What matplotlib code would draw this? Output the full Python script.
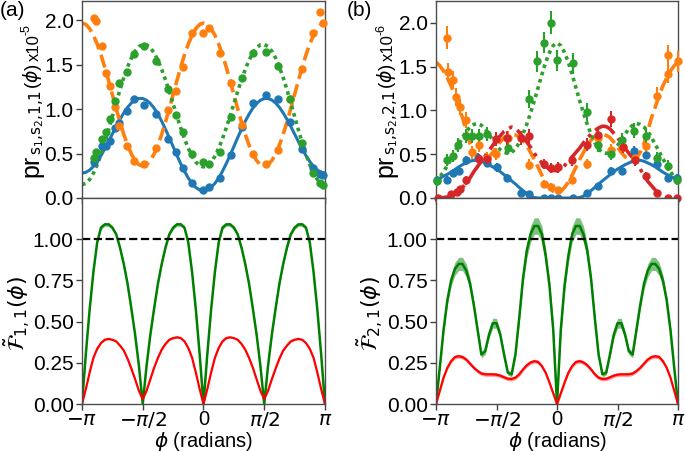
import numpy as np
import matplotlib
matplotlib.use('Agg')
import matplotlib.pyplot as plt

plt.rcParams['font.family'] = ['Liberation Sans', 'DejaVu Sans']
plt.rcParams['mathtext.fontset'] = 'dejavusans'

PI = np.pi
# fitted-curve sample positions (phi from -pi to pi, 65 samples)
GRID = np.linspace(-PI, PI, 65)

# ---------------- panel (a) top: probabilities x1e-5 ----------------
BLUE_A_FIT = [0.280, 0.289, 0.314, 0.355, 0.410, 0.477, 0.553, 0.636, 0.721, 0.805, 0.886, 0.958, 1.021,
              1.070, 1.104, 1.121, 1.120, 1.101, 1.065, 1.012, 0.944, 0.864, 0.774, 0.678, 0.579, 0.481,
              0.387, 0.301, 0.225, 0.164, 0.118, 0.090,
              0.080,
              0.090, 0.118, 0.164, 0.225, 0.301, 0.387, 0.481, 0.579, 0.678, 0.774, 0.864, 0.944, 1.012,
              1.065, 1.101, 1.120, 1.121, 1.104, 1.070, 1.021, 0.958, 0.886, 0.805, 0.721, 0.636, 0.553,
              0.477, 0.410, 0.355, 0.314, 0.289, 0.280]
ORANGE_A_FIT = [1.970, 1.955, 1.909, 1.834, 1.734, 1.612, 1.473, 1.322, 1.165, 1.008, 0.857, 0.718, 0.596,
                0.496, 0.421, 0.375, 0.360, 0.375, 0.421, 0.496, 0.596, 0.718, 0.857, 1.008, 1.165, 1.322,
                1.473, 1.612, 1.734, 1.834, 1.909, 1.955,
                1.970,
                1.955, 1.909, 1.834, 1.734, 1.612, 1.473, 1.322, 1.165, 1.008, 0.857, 0.718, 0.596, 0.496,
                0.421, 0.375, 0.360, 0.375, 0.421, 0.496, 0.596, 0.718, 0.857, 1.008, 1.165, 1.322, 1.473,
                1.612, 1.734, 1.834, 1.909, 1.955, 1.970]
GREEN_A_FIT = [0.150, 0.165, 0.208, 0.279, 0.374, 0.491, 0.624, 0.768, 0.919, 1.071, 1.218, 1.354, 1.475,
               1.576, 1.654, 1.706, 1.730, 1.726, 1.693, 1.634, 1.552, 1.448, 1.329, 1.198, 1.061, 0.923,
               0.790, 0.667, 0.559, 0.470, 0.404, 0.364,
               0.350,
               0.364, 0.404, 0.470, 0.559, 0.667, 0.790, 0.923, 1.061, 1.198, 1.329, 1.448, 1.552, 1.634,
               1.693, 1.726, 1.730, 1.706, 1.654, 1.576, 1.475, 1.354, 1.218, 1.071, 0.919, 0.768, 0.624,
               0.491, 0.374, 0.279, 0.208, 0.165, 0.150]

PHI_A = [-2.83, -2.78, -2.62, -2.52, -2.43, -2.30, -2.18, -1.98, -1.79, -1.55, -1.23, -0.93, -0.70, -0.52,
         -0.30, -0.01, 0.15, 0.42, 0.71, 1.00, 1.29, 1.61, 1.93, 2.24, 2.54, 2.83, 3.02, 3.09]
BLUE_A = [0.41, 0.45, 0.58, 0.59, 0.64, 0.79, 0.84, 0.98, 1.11, 1.05, 0.95, 0.67, 0.52, 0.34, 0.17, 0.09,
          0.12, 0.23, 0.48, 0.80, 1.07, 1.16, 1.12, 0.86, 0.55, 0.34, 0.27, 0.26]
ORANGE_A = [2.03, 1.99, 1.71, 1.41, 1.26, 1.03, 0.81, 0.58, 0.42, 0.38, 0.56, 0.99, 1.20, 1.47, 1.86, 1.86,
            1.91, 1.63, 1.30, 0.82, 0.49, 0.38, 0.54, 1.12, 1.45, 1.86, 2.09, 1.97]
GREEN_A = [0.45, 0.52, 0.67, 0.74, 0.89, 1.09, 1.30, 1.42, 1.62, 1.71, 1.54, 1.23, 0.94, 0.74, 0.50, 0.41,
           0.38, 0.52, 0.91, 1.35, 1.63, 1.65, 1.49, 1.12, 0.62, 0.28, 0.17, 0.15]

# ---------------- panel (a) bottom: Fisher information ----------------
FISHER_A_GREEN = [0, 0.30, 0.57, 0.80, 0.98, 1.07, 1.09, 1.09, 1.07, 1.03, 0.95, 0.85, 0.73, 0.58, 0.42, 0.23, 0,
                  0.23, 0.42, 0.58, 0.73, 0.85, 0.95, 1.03, 1.07, 1.09, 1.09, 1.07, 0.98, 0.80, 0.57, 0.30, 0,
                  0.30, 0.57, 0.80, 0.98, 1.07, 1.09, 1.09, 1.07, 1.03, 0.95, 0.85, 0.73, 0.58, 0.42, 0.23, 0,
                  0.23, 0.42, 0.58, 0.73, 0.85, 0.95, 1.03, 1.07, 1.09, 1.09, 1.07, 0.98, 0.80, 0.57, 0.30, 0]
FISHER_A_RED = [0, 0.09, 0.19, 0.28, 0.335, 0.37, 0.39, 0.395, 0.39, 0.38, 0.355, 0.325, 0.275, 0.215, 0.15, 0.08, 0.03,
                0.08, 0.15, 0.22, 0.28, 0.33, 0.365, 0.39, 0.40, 0.405, 0.40, 0.38, 0.34, 0.28, 0.19, 0.09, 0,
                0.09, 0.19, 0.28, 0.34, 0.38, 0.40, 0.405, 0.40, 0.39, 0.365, 0.33, 0.28, 0.22, 0.15, 0.08, 0.03,
                0.08, 0.15, 0.215, 0.275, 0.325, 0.355, 0.38, 0.39, 0.395, 0.39, 0.37, 0.335, 0.28, 0.19, 0.09, 0]
FISHER_A_GREEN_ERR = 0.012
FISHER_A_RED_ERR = 0.005

# ---------------- panel (b) top: probabilities x1e-6 ----------------
BLUE_B_FIT = [0.20, 0.225, 0.25, 0.27, 0.295, 0.325, 0.355, 0.38, 0.40, 0.42, 0.43, 0.43, 0.42, 0.40, 0.38,
              0.355, 0.33, 0.30, 0.265, 0.23, 0.195, 0.16, 0.12, 0.085, 0.05, 0.022, 0.005, 0, 0, 0, 0, 0,
              0,
              0, 0, 0, 0, 0, 0.005, 0.022, 0.05, 0.085, 0.12, 0.16, 0.195, 0.23, 0.265, 0.30, 0.33, 0.355,
              0.38, 0.40, 0.42, 0.43, 0.43, 0.42, 0.40, 0.38, 0.355, 0.325, 0.295, 0.27, 0.25, 0.225, 0.20]
ORANGE_B_FIT = [1.55, 1.51, 1.45, 1.37, 1.28, 1.17, 1.04, 0.92, 0.76, 0.62, 0.52, 0.46, 0.44, 0.445, 0.47,
                0.52, 0.58, 0.64, 0.69, 0.715, 0.725, 0.72, 0.70, 0.66, 0.60, 0.52, 0.44, 0.35, 0.26, 0.18,
                0.12, 0.075,
                0.06,
                0.075, 0.12, 0.18, 0.26, 0.35, 0.44, 0.52, 0.60, 0.66, 0.70, 0.72, 0.725, 0.715, 0.69, 0.64,
                0.58, 0.52, 0.47, 0.445, 0.44, 0.46, 0.52, 0.62, 0.76, 0.92, 1.04, 1.17, 1.28, 1.37, 1.45,
                1.51, 1.55]
GREEN_B_FIT = [0.18, 0.24, 0.30, 0.37, 0.45, 0.53, 0.61, 0.69, 0.76, 0.81, 0.84, 0.85, 0.83, 0.79, 0.73,
               0.66, 0.60, 0.55, 0.52, 0.51, 0.52, 0.56, 0.63, 0.73, 0.84, 0.97, 1.11, 1.26, 1.41, 1.55,
               1.66, 1.74,
               1.77,
               1.74, 1.66, 1.55, 1.41, 1.26, 1.11, 0.97, 0.84, 0.73, 0.63, 0.56, 0.52, 0.51, 0.52, 0.55,
               0.60, 0.66, 0.73, 0.79, 0.83, 0.85, 0.84, 0.81, 0.76, 0.69, 0.61, 0.53, 0.45, 0.37, 0.30,
               0.24, 0.18]
RED_B_FIT = [0.0, 0.0, 0.005, 0.012, 0.025, 0.045, 0.08, 0.12, 0.17, 0.23, 0.30, 0.36, 0.42, 0.48, 0.54,
             0.60, 0.66, 0.71, 0.76, 0.79, 0.81, 0.80, 0.75, 0.70, 0.64, 0.58, 0.51, 0.45, 0.40, 0.36,
             0.33, 0.315, 0.31, 0.33, 0.37, 0.42, 0.47, 0.52, 0.57, 0.63, 0.68, 0.73, 0.77, 0.80, 0.82,
             0.815, 0.79, 0.74, 0.69, 0.63, 0.57, 0.51, 0.46, 0.40, 0.33, 0.26, 0.19, 0.14, 0.09, 0.05,
             0.02, 0.008, 0.003, 0.0, 0.0]

BLUE_B_PHI = [-3.12, -2.85, -2.69, -2.55, -2.37, -2.04, -1.83, -1.57, -1.29, -0.93, -0.73, -0.34, -0.15,
              0.02, 0.42, 0.77, 1.07, 1.40, 1.70, 2.01, 2.30, 2.59, 2.87, 3.11]
BLUE_B = [0.21, 0.21, 0.28, 0.31, 0.43, 0.46, 0.40, 0.35, 0.23, 0.06, 0.05, 0.0, 0.0, 0.0, 0.0, 0.06,
          0.14, 0.31, 0.31, 0.54, 0.49, 0.39, 0.23, 0.23]
BLUE_B_ERR = [0.04, 0.04, 0.04, 0.04, 0.05, 0.05, 0.05, 0.05, 0.04, 0.02, 0.02, 0.01, 0.01, 0.01, 0.01,
              0.02, 0.03, 0.04, 0.04, 0.05, 0.05, 0.05, 0.04, 0.04]
ORANGE_B_PHI = [-2.86, -2.83, -2.69, -2.61, -2.52, -2.37, -2.20, -2.03, -1.83, -1.59, -1.27, -0.73, -0.34,
                -0.15, 0.02, 0.38, 0.77, 1.07, 1.40, 1.72, 2.03, 2.30, 2.59, 2.87, 2.89, 3.13]
ORANGE_B = [1.83, 1.44, 1.35, 1.15, 1.04, 0.89, 0.52, 0.60, 0.46, 0.50, 0.69, 0.38, 0.16, 0.13, 0.09,
            0.21, 0.39, 0.69, 0.55, 0.58, 0.46, 0.59, 1.17, 1.42, 1.63, 1.56]
ORANGE_B_ERR = [0.13, 0.10, 0.10, 0.10, 0.09, 0.09, 0.07, 0.07, 0.06, 0.07, 0.08, 0.06, 0.04, 0.04, 0.03,
                0.05, 0.06, 0.08, 0.07, 0.07, 0.06, 0.07, 0.10, 0.11, 0.12, 0.12]
GREEN_B_PHI = [-3.12, -2.86, -2.69, -2.57, -2.35, -2.20, -2.03, -1.83, -1.28, -0.73, -0.53, -0.34, -0.16,
               0.01, 0.42, 0.77, 1.07, 1.40, 1.70, 2.01, 2.30, 2.59, 2.87, 3.11]
GREEN_B = [0.19, 0.43, 0.48, 0.60, 0.71, 0.71, 0.71, 0.73, 0.57, 1.13, 1.56, 1.77, 2.00, 1.57, 1.54, 0.98,
           0.61, 0.50, 0.66, 0.77, 0.71, 0.46, 0.37, 0.20]
GREEN_B_ERR = [0.05, 0.07, 0.07, 0.08, 0.08, 0.08, 0.08, 0.08, 0.07, 0.10, 0.12, 0.12, 0.13, 0.12, 0.12,
               0.10, 0.08, 0.07, 0.08, 0.09, 0.08, 0.07, 0.06, 0.05]
RED_B_PHI = [-3.10, -2.76, -2.59, -2.52, -2.35, -2.03, -1.83, -1.59, -1.29, -0.93, -0.73, -0.34, -0.15,
             0.02, 0.38, 0.77, 1.07, 1.40, 1.72, 2.03, 2.30, 2.59, 2.87, 3.11]
RED_B = [0.0, 0.04, 0.07, 0.10, 0.20, 0.44, 0.44, 0.67, 0.69, 0.69, 0.71, 0.39, 0.34, 0.35, 0.43, 0.61,
         0.72, 0.90, 0.58, 0.43, 0.25, 0.06, 0.0, 0.0]
RED_B_ERR = [0.01, 0.02, 0.03, 0.03, 0.05, 0.06, 0.06, 0.08, 0.08, 0.08, 0.08, 0.06, 0.06, 0.06, 0.06,
             0.07, 0.08, 0.09, 0.07, 0.06, 0.05, 0.03, 0.01, 0.01]

# ---------------- panel (b) bottom: Fisher information ----------------
FISHER_B_GREEN = [0, 0.22, 0.45, 0.63, 0.75, 0.82, 0.85, 0.85, 0.81, 0.73, 0.60, 0.45, 0.30, 0.32, 0.42,
                  0.49, 0.49, 0.42, 0.30, 0.19, 0.18, 0.30, 0.52, 0.76, 0.93, 1.03, 1.08, 1.08, 1.03, 0.90,
                  0.72, 0.45,
                  0,
                  0.45, 0.72, 0.90, 1.03, 1.08, 1.08, 1.03, 0.93, 0.76, 0.52, 0.30, 0.18, 0.19, 0.30, 0.42,
                  0.49, 0.49, 0.42, 0.32, 0.30, 0.45, 0.60, 0.73, 0.81, 0.85, 0.85, 0.82, 0.75, 0.63, 0.45,
                  0.22, 0]
FISHER_B_GREEN_ERR = [0.005, 0.015, 0.025, 0.03, 0.035, 0.04, 0.04, 0.04, 0.04, 0.035, 0.03, 0.025, 0.02,
                      0.02, 0.025, 0.03, 0.03, 0.025, 0.02, 0.015, 0.015, 0.02, 0.03, 0.035, 0.045, 0.05,
                      0.05, 0.05, 0.05, 0.045, 0.04, 0.04,
                      0.03,
                      0.04, 0.04, 0.045, 0.05, 0.05, 0.05, 0.05, 0.045, 0.035, 0.03, 0.02, 0.015, 0.015,
                      0.02, 0.025, 0.03, 0.03, 0.025, 0.02, 0.02, 0.025, 0.03, 0.035, 0.04, 0.04, 0.04,
                      0.04, 0.035, 0.03, 0.025, 0.015, 0.005]
FISHER_B_RED = [0, 0.08, 0.16, 0.22, 0.26, 0.285, 0.29, 0.285, 0.27, 0.245, 0.22, 0.20, 0.185, 0.18, 0.18,
                0.18, 0.178, 0.172, 0.162, 0.153, 0.152, 0.16, 0.18, 0.21, 0.235, 0.252, 0.26, 0.255, 0.23,
                0.19, 0.13, 0.065,
                0,
                0.065, 0.13, 0.19, 0.23, 0.255, 0.26, 0.252, 0.235, 0.21, 0.18, 0.16, 0.152, 0.153, 0.162,
                0.172, 0.178, 0.18, 0.18, 0.18, 0.185, 0.20, 0.22, 0.245, 0.27, 0.285, 0.29, 0.285, 0.26,
                0.22, 0.16, 0.08, 0]
FISHER_B_RED_ERR = 0.012

XTICKS = [-PI, -PI / 2, 0, PI / 2, PI]
XTICKLABELS = [r'$-\pi$', r'$-\pi/2$', '0', r'$\pi/2$', r'$\pi$']

C_BLUE, C_ORANGE, C_GREEN, C_RED = '#1f77b4', '#ff7f0e', '#2ca02c', '#d62728'
TICK_FS = 15
LABEL_FS = 15

fig = plt.figure(figsize=(6.85, 4.51), dpi=100)
FW, FH = 685.0, 451.0
L1, L2 = 0.1197, 0.6365
W1, W2 = 0.3547, 0.3533
axA = fig.add_axes([L1, 0.561, W1, 0.437])
axC = fig.add_axes([L1, 0.1042, W1, 0.4568])
axB = fig.add_axes([L2, 0.561, W2, 0.437])
axD = fig.add_axes([L2, 0.1042, W2, 0.4568])

for ax in (axA, axB, axC, axD):
    ax.set_xlim(-PI, PI)
    ax.set_xticks(XTICKS)
    ax.tick_params(direction='out', length=4, width=1, labelsize=TICK_FS, color='0.25', pad=2)
    for s in ax.spines.values():
        s.set_color('0.3')
        s.set_linewidth(1.0)

for ax in (axA, axB):
    ax.set_xticklabels([])
    ax.set_yticks([0.0, 0.5, 1.0, 1.5, 2.0])
    ax.set_yticklabels(['0.0', '0.5', '1.0', '1.5', '2.0'])
for ax in (axC, axD):
    ax.set_xticklabels(XTICKLABELS)
    ax.tick_params(axis='x', pad=0.5, labelsize=14.5)
    ax.set_ylim(0, 1.25)
    ax.set_yticks([0, 0.25, 0.5, 0.75, 1.0])
    ax.set_yticklabels(['0.00', '0.25', '0.50', '0.75', '1.00'])
    ax.set_xlabel(r'$\phi$ (radians)', fontsize=14.5, va='top')
    ax.xaxis.set_label_coords(0.5, (404 - 429.5) / 206.0)

axA.set_ylim(0, 2.22)
axB.set_ylim(0, 2.25)

# panel (a) top
LW = 2.2
MS = 5
axA.plot(GRID, BLUE_A_FIT, color=C_BLUE, lw=LW, zorder=2)
axA.plot(GRID, ORANGE_A_FIT, color=C_ORANGE, lw=LW + 0.4, ls='--', zorder=2)
axA.plot(GRID, GREEN_A_FIT, color=C_GREEN, lw=LW + 0.4, ls=(0, (1, 1.1)), zorder=2)
axA.plot(PHI_A, BLUE_A, 'o', color=C_BLUE, ms=MS, zorder=3, clip_on=False)
axA.plot(PHI_A, ORANGE_A, 'o', color=C_ORANGE, ms=MS, zorder=3, clip_on=False)
axA.plot(PHI_A, GREEN_A, 'o', color=C_GREEN, ms=MS, zorder=3, clip_on=False)

# panel (b) top
axB.plot(GRID, BLUE_B_FIT, color=C_BLUE, lw=LW, zorder=2)
axB.plot(GRID, ORANGE_B_FIT, color=C_ORANGE, lw=LW + 0.4, ls='--', zorder=2)
axB.plot(GRID, GREEN_B_FIT, color=C_GREEN, lw=LW + 0.4, ls=(0, (1, 1.1)), zorder=2)
axB.plot(GRID, RED_B_FIT, color=C_RED, lw=LW + 0.4, ls='-.', zorder=2)
for phis, vals, errs, col in ((BLUE_B_PHI, BLUE_B, BLUE_B_ERR, C_BLUE),
                              (ORANGE_B_PHI, ORANGE_B, ORANGE_B_ERR, C_ORANGE),
                              (GREEN_B_PHI, GREEN_B, GREEN_B_ERR, C_GREEN),
                              (RED_B_PHI, RED_B, RED_B_ERR, C_RED)):
    axB.errorbar(phis, vals, yerr=errs, fmt='o', color=col, ms=MS, elinewidth=1.5, capsize=0,
                 zorder=3, clip_on=False)

# panel (a) bottom
g = np.array(FISHER_A_GREEN)
r = np.array(FISHER_A_RED)
axC.fill_between(GRID, g - FISHER_A_GREEN_ERR, g + FISHER_A_GREEN_ERR, color='green', alpha=0.45, lw=0)
axC.plot(GRID, g, color='green', lw=1.8)
axC.fill_between(GRID, r - FISHER_A_RED_ERR, r + FISHER_A_RED_ERR, color='red', alpha=0.4, lw=0)
axC.plot(GRID, r, color='red', lw=1.6)
axC.axhline(1.0, color='black', ls='--', lw=1.6)

# panel (b) bottom
g = np.array(FISHER_B_GREEN)
ge = np.array(FISHER_B_GREEN_ERR)
r = np.array(FISHER_B_RED)
axD.fill_between(GRID, g - ge, g + ge, color='green', alpha=0.5, lw=0)
axD.plot(GRID, g, color='green', lw=1.8)
axD.fill_between(GRID, r - FISHER_B_RED_ERR, r + FISHER_B_RED_ERR, color='red', alpha=0.4, lw=0)
axD.plot(GRID, r, color='red', lw=1.6)
axD.axhline(1.0, color='black', ls='--', lw=1.6)

axC.set_ylabel(r'$\tilde{\mathcal{F}}_{1,1}(\phi)$', fontsize=LABEL_FS + 1)
axD.set_ylabel(r'$\tilde{\mathcal{F}}_{2,1}(\phi)$', fontsize=LABEL_FS + 1)
axC.yaxis.set_label_coords((33 - 82) / 243.0, 0.44)
axD.yaxis.set_label_coords((386 - 436) / 242.0, 0.44)


# top y labels built from pieces of different sizes, stacked bottom-to-top
def chain_label(x_px, y_start_px, parts):
    y_disp = FH - y_start_px
    for txt, fs, dx, gap in parts:
        y_disp += gap
        t = fig.text((x_px + dx) / FW, y_disp / FH, txt, rotation=90, rotation_mode='anchor',
                     ha='left', va='baseline', fontsize=fs)
        fig.canvas.draw()
        bb = t.get_window_extent()
        y_disp = bb.y1


PARTS_A = [('pr', 18, 0, 0), (r'$\mathrm{s_1{,}s_2{,}1{,}1}$', 11, 3, 0), (r'($\phi$)', 13.5, 0, 1),
           ('x10', 12, 1, 2), ('-5', 9, -8, -1)]
PARTS_B = [('pr', 18, 0, 0), (r'$\mathrm{s_1{,}s_2{,}2{,}1}$', 11, 3, 0), (r'($\phi$)', 13.5, 0, 1),
           ('x10', 12, 1, 2), ('-6', 9, -8, -1)]
chain_label(38, 177, PARTS_A)
chain_label(392, 177, PARTS_B)

fig.text(0.0, 0.997, '(a)', ha='left', va='top', fontsize=LABEL_FS)
fig.text(347 / FW, 0.997, '(b)', ha='left', va='top', fontsize=LABEL_FS)

fig.savefig('out.png', dpi=100)
